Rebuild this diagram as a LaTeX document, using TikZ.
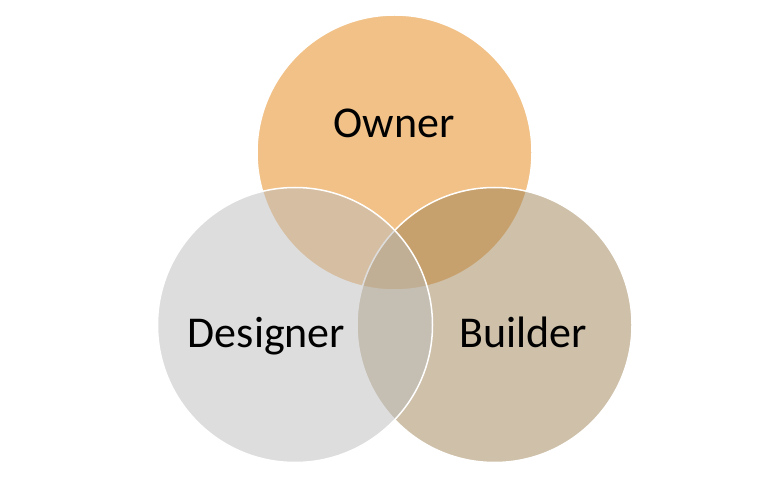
\documentclass[tikz,border=0pt]{standalone}
\usepackage{fontspec}
\setmainfont{Carlito}
\definecolor{ownerc}{RGB}{229,133,17}
\definecolor{builderc}{RGB}{159,131,85}
\definecolor{designerc}{RGB}{189,189,189}
\begin{document}
\begin{tikzpicture}[x=1pt,y=1pt,
  venn/.style={circle,minimum size=275pt,inner sep=0pt,draw=white,line width=1.5pt,fill opacity=0.5},
  lbl/.style={anchor=base,font=\fontsize{44}{50}\selectfont,text=black,inner sep=0pt}]
\useasboundingbox[fill=white] (0,0) rectangle (768,493);
\node[venn,fill=ownerc] (owner) at (394.5,340.5) {};
\node[venn,fill=builderc] (builder) at (494.5,168) {};
\node[venn,fill=designerc] (designer) at (295,168) {};
\node[lbl] (ownerl) at (394,355) {Owner};
\node[lbl] (designerl) at (266.5,146) {Designer};
\node[lbl] (builderl) at (523.5,146) {Builder};
\end{tikzpicture}
\end{document}
